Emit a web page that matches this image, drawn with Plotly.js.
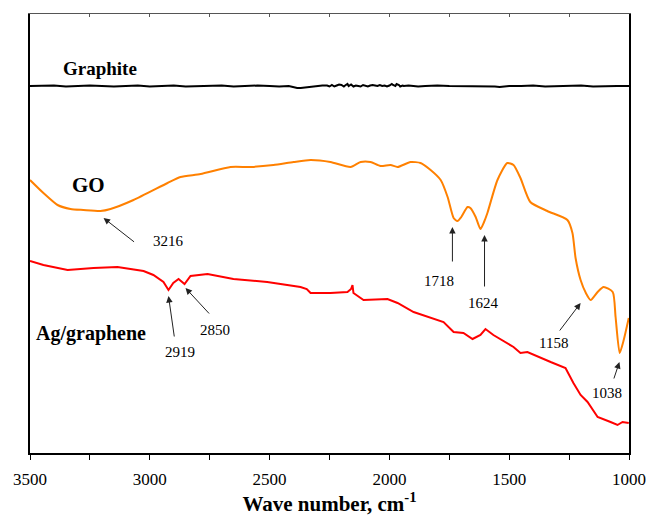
<!DOCTYPE html>
<html>
<head>
<meta charset="utf-8">
<script src="https://cdn.plot.ly/plotly-3.0.1.min.js"></script>
<style>html,body{margin:0;padding:0;background:#fff;}#chart{width:646px;height:517px;}</style>
</head>
<body>
<div id="chart"></div>
<script>
// Wavenumbers (cm^-1) and relative transmittance (arbitrary offset units)
const graphiteWn = [3500,3450,3400,3350,3300,3250,3200,3150,3100,3050,3000,2950,2900,2850,2800,2750,2700,2650,2600,2550,2500,2460,2420,2400,2385,2370,2355,2340,2320,2300,2280,2260,2250,2240,2230,2220,2210,2200,2190,2185,2175,2170,2160,2150,2140,2130,2120,2110,2100,2090,2080,2070,2060,2050,2040,2030,2020,2010,2000,1990,1985,1975,1970,1960,1955,1945,1940,1920,1900,1880,1850,1800,1750,1700,1650,1600,1560,1540,1520,1500,1450,1400,1350,1300,1250,1200,1150,1100,1050,1000];
const graphiteT  = [367,367,367.5,366.5,367,367.5,367,366.5,367,367.5,366.5,367,367.5,366.5,367,367,367.5,366.5,367,367.5,367,366.5,367,365.5,365,365,365.5,366,366.5,367,367.5,367.5,366.5,368,366.5,367.5,368.5,368,366.5,367.5,369,367,368.5,366.5,367.5,367,366.5,368,367.5,366.5,367.5,368,367.5,367,368,367,367.5,366.5,367.5,369,368,367,369,368,366.5,367.5,367,367.5,367,366.5,367,367.5,367,367,366.5,367,366.5,366,366.5,367,367,367.5,366.5,367,367,367.5,366.5,367,367,367];

const goWn = [3500,3444,3385,3331,3277,3206,3164,3068,2926,2872,2788,2663,2580,2484,2400,2329,2246,2162,2120,2079,2037,1995,1966,1912,1870,1828,1786,1757,1732,1716,1700,1674,1662,1640,1620,1605,1591,1549,1508,1482,1453,1412,1341,1257,1236,1223,1202,1180,1160,1131,1106,1068,1056,1039,1022,1001];
const goT  = [273,260,248,244,243,242,244,253,270,276,279,286,286,288,291,293,291,286,291,291,287,288,286,291,290,283,273,256,235,232,236,246,245,236,224,231,240,273,290,288,275,251,242,233,220,195,173,160,153,161,166,161,136,100,113,135];

const agWn = [3500,3444,3343,3235,3135,3026,2985,2943,2922,2902,2880,2855,2830,2759,2651,2510,2371,2345,2329,2246,2175,2160,2154,2150,2108,2008,1966,1899,1774,1732,1691,1653,1620,1599,1566,1482,1453,1424,1327,1265,1232,1202,1173,1131,1077,1048,1027,1001];
const agT  = [192,188,183,185,186,182,178,171,163,170,174,169,177,179,174,171,166,164,160,160,161,164,168,160,153,154,150,141,131,121,120,114,118,124,118,106,100,101,91,85,70,58,51,36,31,28,31,30];

const tickVals = [3500,3000,2500,2000,1500,1000];
const tickText = ["3500","3000","2500","2000","1500","1000"];

const serif = "Times New Roman";

const traces = [
  {x: graphiteWn, y: graphiteT, mode: 'lines', line: {color: '#000000', width: 2}, hoverinfo: 'skip'},
  {x: goWn, y: goT, mode: 'lines', line: {color: '#FF8000', width: 2, shape: 'spline', smoothing: 0.6}, hoverinfo: 'skip'},
  {x: agWn, y: agT, mode: 'lines', line: {color: '#FF0000', width: 2}, hoverinfo: 'skip'},
  {x: [3500, 1000], y: [null, null], xaxis: 'x2', yaxis: 'y', mode: 'lines', showlegend: false, hoverinfo: 'skip'}
];

function label(text, x, y, size, bold) {
  return {x: x, y: y, xref: 'x', yref: 'y', text: bold ? '<b>' + text + '</b>' : text, showarrow: false,
          font: {family: serif, size: size, color: '#000'}, xanchor: 'center', yanchor: 'middle'};
}
function arrow(x, y, ax, ay) {
  return {x: x, y: y, xref: 'x', yref: 'y', ax: ax, ay: ay, text: '', showarrow: true,
          arrowhead: 2, arrowsize: 1.3, arrowwidth: 1, arrowcolor: '#222'};
}

const annotations = [
  label('Graphite', 3206, 385, 19, true),
  label('GO', 3256, 268, 21, true),
  label('Ag/graphene', 3247, 120, 20, true),
  label('3216', 2922, 212, 15),
  label('2919', 2872, 101, 15),
  label('2850', 2726, 123, 15),
  label('1718', 1791, 172, 15),
  label('1624', 1607, 150, 15),
  label('1158', 1315, 110, 15),
  label('1038', 1090, 60, 15),
  arrow(3193, 235, 32, 25),
  arrow(2922, 157, 6, 42),
  arrow(2851, 165, 25, 27),
  arrow(1737, 226, 0, 36),
  arrow(1603, 218, 0, 53),
  arrow(1202, 150, -22, 29),
  arrow(1040, 91, -6, 18)
];

const layout = {
  width: 646, height: 517,
  margin: {l: 30, r: 17, t: 14, b: 64},
  paper_bgcolor: '#fff', plot_bgcolor: '#fff',
  font: {family: serif, size: 17, color: '#000'},
  showlegend: false,
  xaxis: {
    range: [3500, 1000], showgrid: false, zeroline: false,
    showline: true, linecolor: '#000', linewidth: 2,
    tickmode: 'array', tickvals: tickVals, ticktext: tickText,
    ticks: 'outside', ticklen: 5, tickwidth: 1, tickcolor: '#000',
    ticklabelstandoff: 5,
    minor: {dtick: 250, tick0: 3500, ticks: 'outside', ticklen: 5, tickwidth: 1, tickcolor: '#000', showgrid: false},
    tickfont: {family: serif, size: 17, color: '#000'},
    title: {text: '<b>Wave number, cm<sup>-1</sup></b>', font: {family: serif, size: 21, color: '#000'}, standoff: 8}
  },
  xaxis2: {
    range: [3500, 1000], overlaying: 'x', side: 'top', showgrid: false, zeroline: false,
    showline: true, linecolor: '#555', linewidth: 1,
    tickmode: 'linear', tick0: 3500, dtick: 250, ticks: 'inside', ticklen: 3, tickcolor: '#555',
    showticklabels: false
  },
  yaxis: {
    range: [0, 439], showgrid: false, zeroline: false,
    showline: true, linecolor: '#000', linewidth: 2, mirror: true,
    ticks: '', showticklabels: false
  },
  annotations: annotations
};

Plotly.newPlot('chart', traces, layout, {displayModeBar: false, staticPlot: true});
</script>
</body>
</html>
